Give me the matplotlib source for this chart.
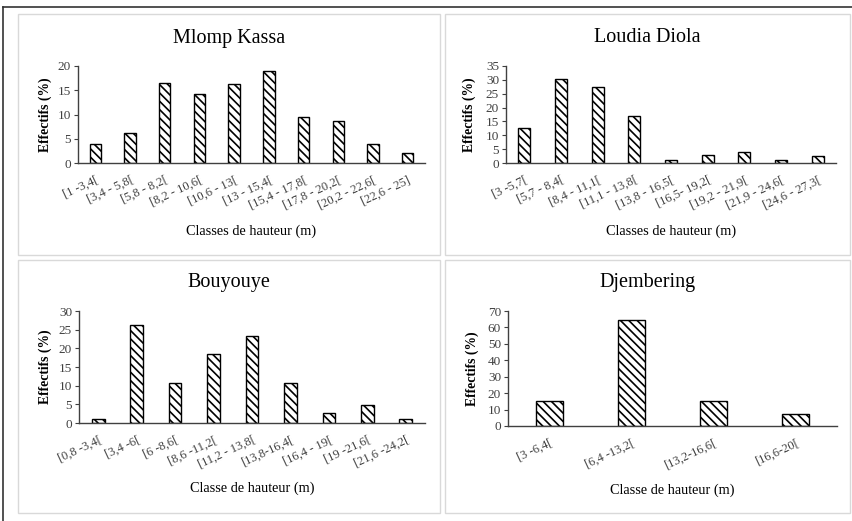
import matplotlib
matplotlib.use("Agg")
import matplotlib.pyplot as plt
from matplotlib.patches import Rectangle
from matplotlib.lines import Line2D
import numpy as np

plt.rcParams["font.family"] = ["Liberation Serif", "DejaVu Serif"]
plt.rcParams["hatch.linewidth"] = 1.2

# Height-class distributions per site (% of stems)
mlomp_classes = ["[1 -3,4[", "[3,4 - 5,8[", "[5,8 - 8,2[", "[8,2 - 10,6[", "[10,6 - 13[",
                 "[13 - 15,4[", "[15,4 - 17,8[", "[17,8 - 20,2[", "[20,2 - 22,6[", "[22,6 - 25]"]
mlomp_values = [3.9, 6.2, 16.5, 14.2, 16.2, 19.0, 9.5, 8.7, 3.9, 2.0]

loudia_classes = ["[3 -5,7[", "[5,7 - 8,4[", "[8,4 - 11,1[", "[11,1 - 13,8[", "[13,8 - 16,5[",
                  "[16,5- 19,2[", "[19,2 - 21,9[", "[21,9 - 24,6[", "[24,6 - 27,3["]
loudia_values = [12.8, 30.2, 27.3, 17.1, 1.0, 3.0, 4.0, 1.0, 2.6]

bouyouye_classes = ["[0,8 -3,4[", "[3,4 -6[", "[6 -8,6[", "[8,6 -11,2[", "[11,2 - 13,8[",
                    "[13,8-16,4[", "[16,4 - 19[", "[19 -21,6[", "[21,6 -24,2["]
bouyouye_values = [1.2, 26.2, 10.6, 18.5, 23.3, 10.6, 2.7, 4.8, 1.2]

djembering_classes = ["[3 -6,4[", "[6,4 -13,2[", "[13,2-16,6[", "[16,6-20["]
djembering_values = [15.1, 64.5, 15.1, 7.5]

W, H = 852, 521
fig = plt.figure(figsize=(W / 100, H / 100), dpi=100)


def fx(px):
    return px / W


def fy(py):
    return 1 - py / H


# (title, classes, values, y max, y step, xlabel, axes px box, panel px box, title y, xlabel y, ylabel x)
panels = [
    ("Mlomp Kassa", mlomp_classes, mlomp_values, 20, 5, "Classes de hauteur (m)",
     (78, 66, 425, 163), (18, 14, 440, 255), 38, 231, 45),
    ("Loudia Diola", loudia_classes, loudia_values, 35, 5, "Classes de hauteur (m)",
     (506, 66, 836, 163), (445, 14, 850, 255), 38, 231, 469),
    ("Bouyouye", bouyouye_classes, bouyouye_values, 30, 5, "Classe de hauteur (m)",
     (79, 311, 425, 423), (18, 260, 440, 513), 282, 488, 45),
    ("Djembering", djembering_classes, djembering_values, 70, 10, "Classe de hauteur (m)",
     (508, 311, 837, 426), (445, 260, 850, 513), 282, 490, 472),
]

for title, classes, values, ymax, ystep, xlabel, abox, pbox, ty, xly, ylx in panels:
    # panel frame
    fig.add_artist(Rectangle((fx(pbox[0]), fy(pbox[3])), fx(pbox[2] - pbox[0]),
                             (pbox[3] - pbox[1]) / H, transform=fig.transFigure,
                             fill=False, edgecolor="#d9d9d9", linewidth=1.0))

    x0, y0, x1, y1 = abox
    ax = fig.add_axes([fx(x0), fy(y1), fx(x1 - x0), (y1 - y0) / H])
    pos = np.arange(len(values))
    ax.bar(pos, values, width=0.33, facecolor="white", edgecolor="black",
           linewidth=1.0, hatch="\\\\\\\\")
    ax.set_xlim(-0.5, len(values) - 0.5)
    ax.set_ylim(0, ymax)
    ax.set_yticks(np.arange(0, ymax + 1, ystep))
    ax.set_xticks(pos)
    ax.set_xticklabels(classes, rotation=25, ha="right", rotation_mode="anchor",
                       fontsize=9, color="#404040")
    ax.tick_params(axis="x", length=0, pad=8)
    ax.tick_params(axis="y", length=3, width=0.8, labelsize=9.5, pad=2, colors="#404040")
    for side in ("top", "right"):
        ax.spines[side].set_visible(False)
    for side in ("left", "bottom"):
        ax.spines[side].set_color("#404040")
        ax.spines[side].set_linewidth(1.0)
    ax.patch.set_alpha(0)

    fig.text(fx((pbox[0] + pbox[2]) / 2), fy(ty), title, ha="center", va="center", fontsize=14.5)
    fig.text(fx((x0 + x1) / 2), fy(xly), xlabel, ha="center", va="center", fontsize=10.3)
    fig.text(fx(ylx), fy((y0 + y1) / 2), "Effectifs (%)", ha="center", va="center",
             rotation=90, fontsize=9.8, fontweight="bold")

# outer frame edges
fig.add_artist(Line2D([fx(3), fx(3)], [0, fy(7)], transform=fig.transFigure,
                      color="#333333", linewidth=1.2))
fig.add_artist(Line2D([fx(3), 1], [fy(7), fy(7)], transform=fig.transFigure,
                      color="#333333", linewidth=1.2))

fig.savefig("out.png", dpi=100)
